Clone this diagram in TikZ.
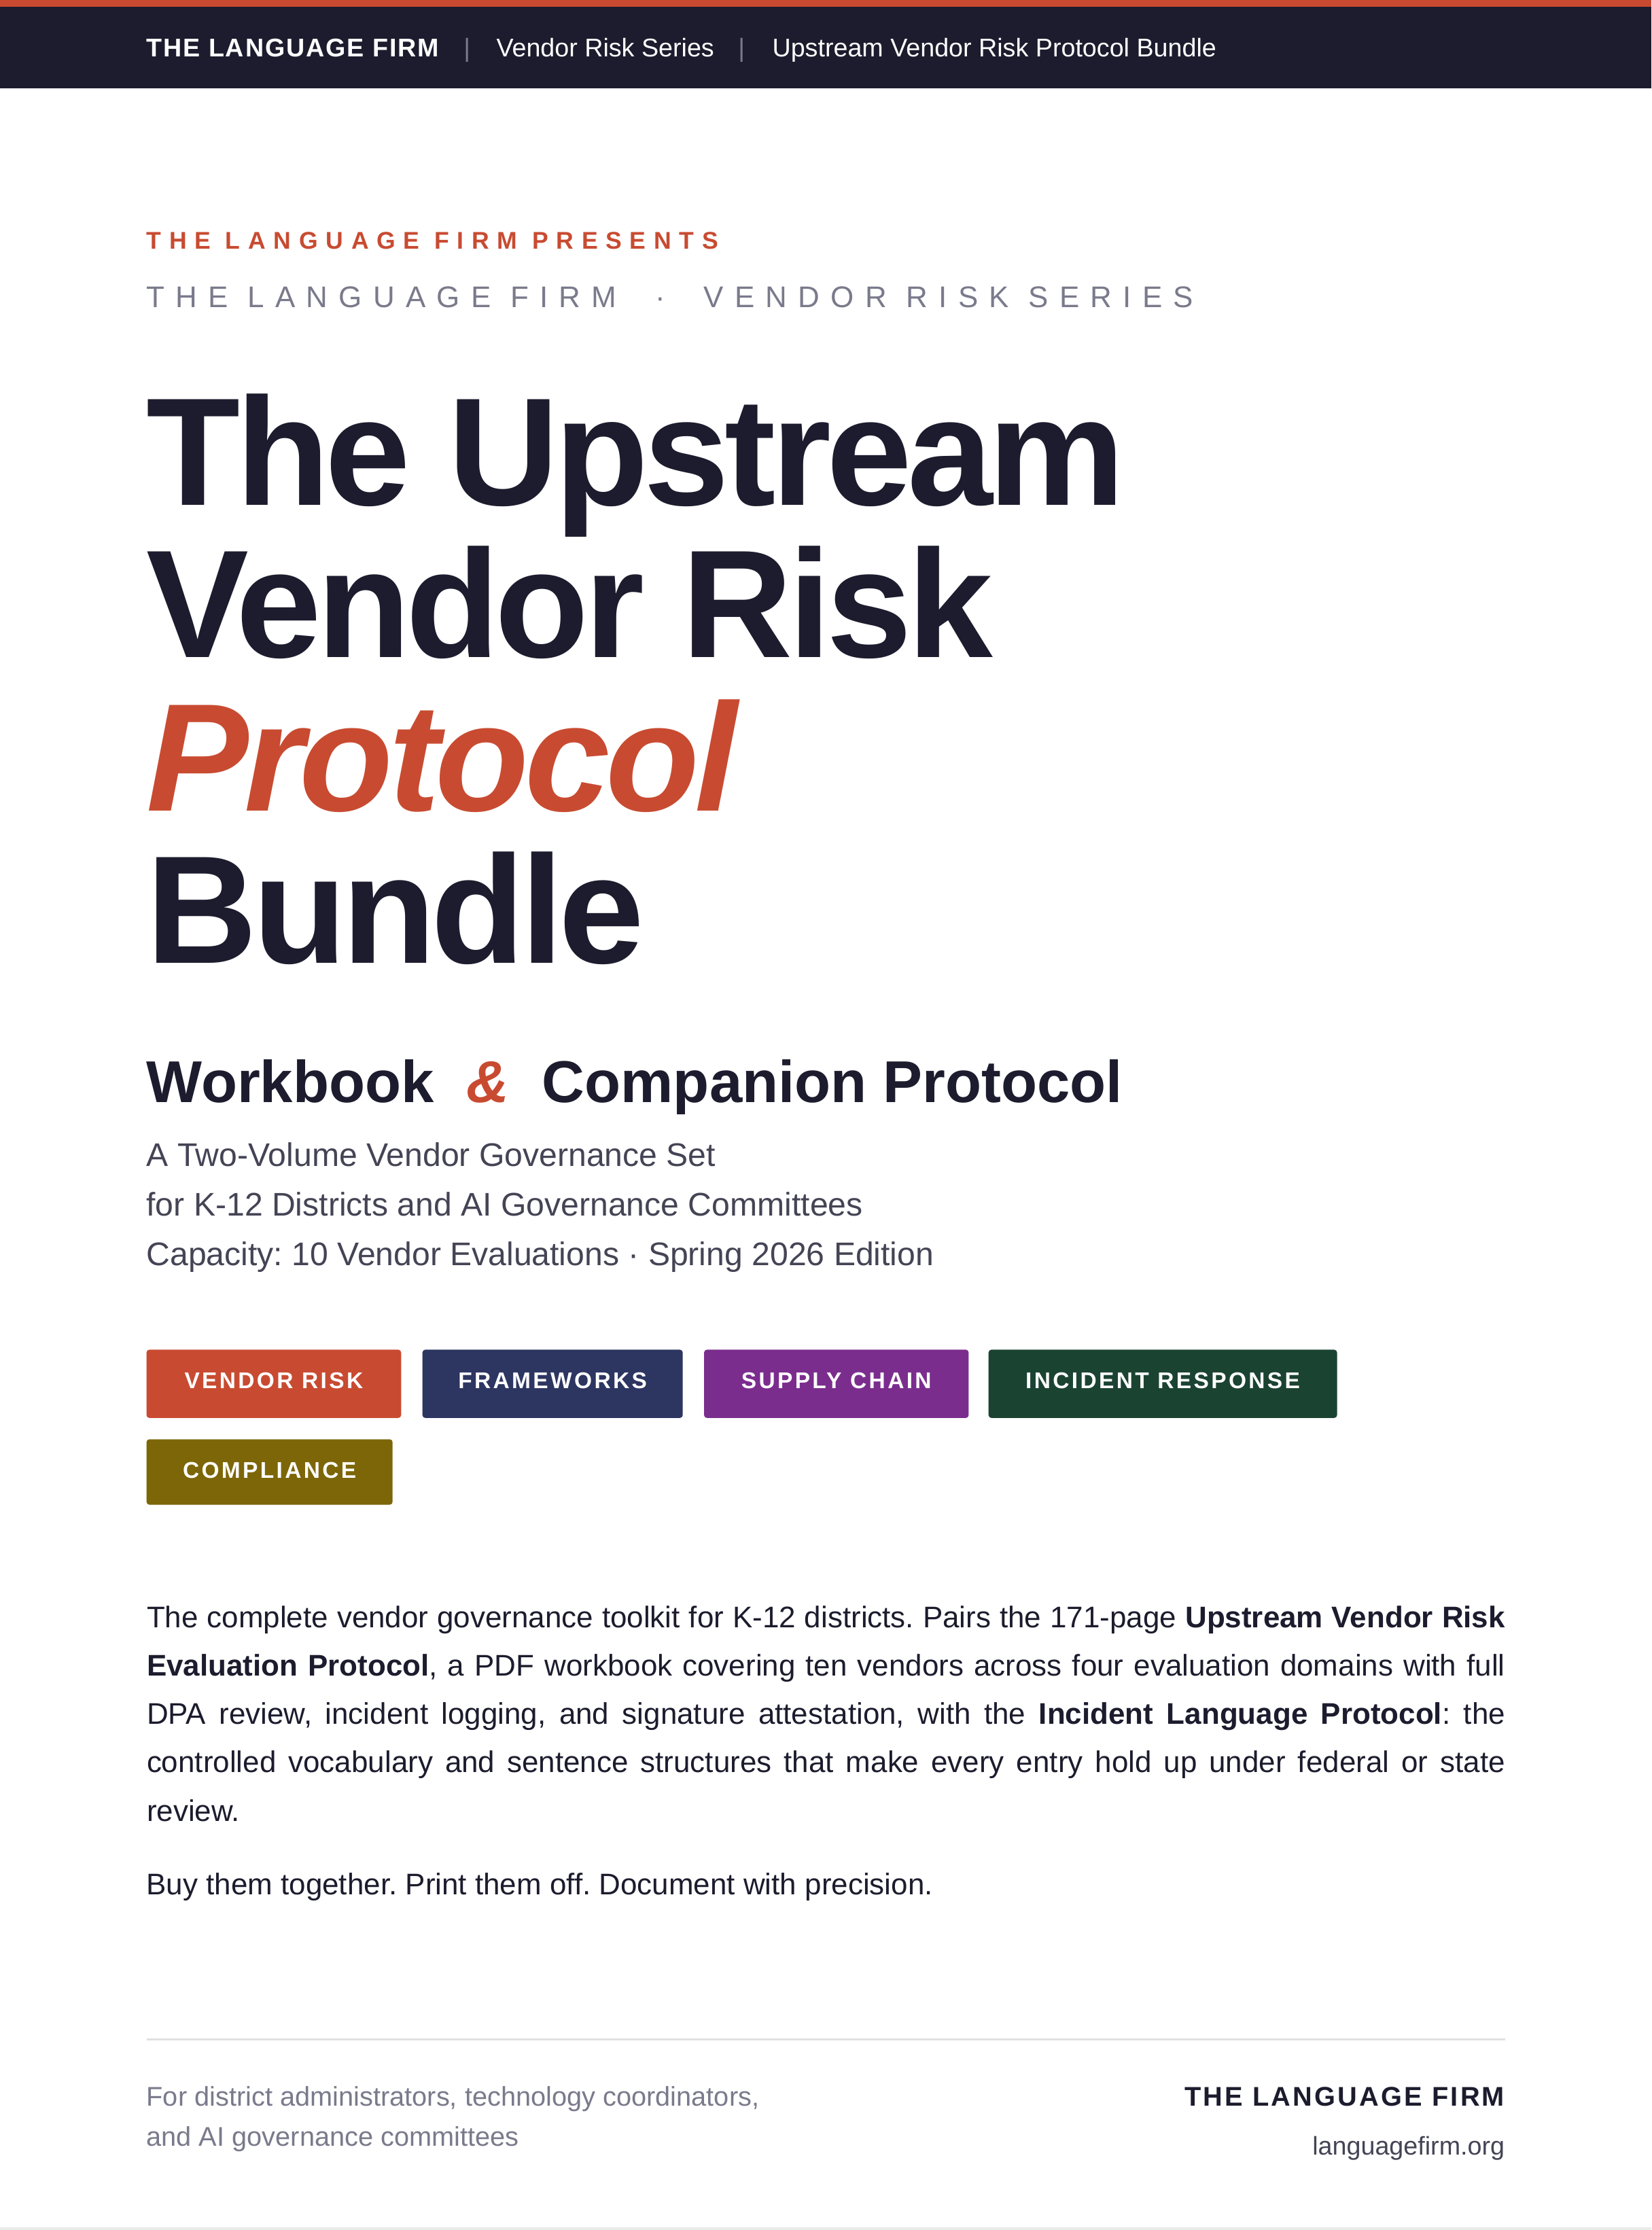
\documentclass[tikz,border=0pt]{standalone}
\usepackage{fontspec}
\setmainfont{Liberation Sans}
\frenchspacing
\definecolor{navy}{HTML}{1C1C2E}
\definecolor{rust}{HTML}{C84B31}
\definecolor{greyt}{HTML}{7A7A8C}
\definecolor{subt}{HTML}{444455}
\definecolor{tnavy}{HTML}{2D3561}
\definecolor{tpurple}{HTML}{7B2D8E}
\definecolor{tgreen}{HTML}{1B4332}
\definecolor{tolive}{HTML}{7D6608}
\newcommand{\fs}[1]{\fontsize{#1}{#1}\selectfont\frenchspacing}
\begin{document}
\begin{tikzpicture}[x=1pt,y=-1pt,
  txt/.style={anchor=base west,inner sep=0pt,outer sep=0pt},
  tag/.style={rounded corners=2pt,draw=none},
  tagt/.style={anchor=center,inner sep=0pt,text=white,font=\fs{16}\bfseries\addfontfeature{LetterSpace=10}}]
\useasboundingbox[fill=white] (0,0) rectangle (1161,1568);
\fill[navy] (0,0) rectangle (1161,62);
\fill[rust] (0,0) rectangle (1161,5);
\node[txt,text=white,font=\fs{18}\bfseries\addfontfeature{LetterSpace=5}] (h1) at (103,40) {THE LANGUAGE FIRM};
\node[txt,text=greyt,font=\fs{18}] (h2) at (326,40) {|};
\node[txt,text=white,font=\fs{18}] (h3) at (349,40) {Vendor Risk Series};
\node[txt,text=greyt,font=\fs{18}] (h4) at (519,40) {|};
\node[txt,text=white,font=\fs{18}] (h5) at (543,40) {Upstream Vendor Risk Protocol Bundle};
\node[txt,text=rust,font=\fs{17}\bfseries\addfontfeature{LetterSpace=33}] (k1) at (103,175) {THE LANGUAGE FIRM PRESENTS};
\node[txt,text=greyt,font=\fs{21}\addfontfeature{LetterSpace=37}] (k2) at (103,216) {THE LANGUAGE FIRM \ · \ VENDOR RISK SERIES};
\node[txt,text=navy,font=\fs{108}\bfseries\addfontfeature{LetterSpace=-3}] (t1) at (103,355) {The Upstream};
\node[txt,text=navy,font=\fs{108}\bfseries\addfontfeature{LetterSpace=-3}] (t2) at (103,462) {Vendor Risk};
\node[txt,text=rust,font=\fs{108}\bfseries\itshape\addfontfeature{LetterSpace=-3}] (t3) at (103,570) {Protocol};
\node[txt,text=navy,font=\fs{108}\bfseries\addfontfeature{LetterSpace=-3}] (t4) at (103,677) {Bundle};
\node[txt,text=navy,font=\fs{41.5}\bfseries] (w) at (103,775) {Workbook \ {\color{rust}\itshape\&}\ \ Companion Protocol};
\node[txt,text=subt,font=\fs{23}] (s1) at (103,820) {A Two-Volume Vendor Governance Set};
\node[txt,text=subt,font=\fs{23}] (s2) at (103,855) {for K-12 Districts and AI Governance Committees};
\node[txt,text=subt,font=\fs{23}] (s3) at (103,890) {Capacity: 10 Vendor Evaluations · Spring 2026 Edition};
\fill[tag,rust] (103,949) rectangle (282,997);
\node[tagt] (g1) at (192.5,971) {VENDOR RISK};
\fill[tag,tnavy] (297,949) rectangle (480,997);
\node[tagt] (g2) at (388.5,971) {FRAMEWORKS};
\fill[tag,tpurple] (495,949) rectangle (681,997);
\node[tagt] (g3) at (588,971) {SUPPLY CHAIN};
\fill[tag,tgreen] (695,949) rectangle (940,997);
\node[tagt] (g4) at (817.5,971) {INCIDENT RESPONSE};
\fill[tag,tolive] (103,1012) rectangle (276,1058);
\node[tagt] (g5) at (189.5,1034) {COMPLIANCE};
\node[anchor=north west,inner sep=0pt,text=navy,text width=955pt,align=justify,font=\fs{21}] (p) at (103,1129)
{\baselineskip=34pt\hyphenpenalty=10000\tolerance=9999 The complete vendor governance toolkit for K-12 districts. Pairs the 171-page \textbf{Upstream Vendor Risk}\linebreak \textbf{Evaluation Protocol}, a PDF workbook covering ten vendors across four evaluation domains with full\linebreak DPA review, incident logging, and signature attestation, with the \textbf{Incident Language Protocol}: the\linebreak controlled vocabulary and sentence structures that make every entry hold up under federal or state\linebreak review.\par};
\node[txt,text=navy,font=\fs{21}] (b) at (103,1332) {Buy them together. Print them off. Document with precision.};
\draw[line width=1.5pt,black!12] (103,1434) -- (1058,1434);
\node[txt,text=greyt,font=\fs{19}] (f1) at (103,1481) {For district administrators, technology coordinators,};
\node[txt,text=greyt,font=\fs{19}] (f2) at (103,1509) {and AI governance committees};
\node[anchor=base east,inner sep=0pt,text=navy,font=\fs{19}\bfseries\addfontfeature{LetterSpace=8}] (r1) at (1058,1481) {THE LANGUAGE FIRM};
\node[anchor=base east,inner sep=0pt,text=subt,font=\fs{18}] (r2) at (1058,1515) {languagefirm.org};
\draw[line width=2pt,black!8] (0,1567) -- (1161,1567);
\end{tikzpicture}
\end{document}
